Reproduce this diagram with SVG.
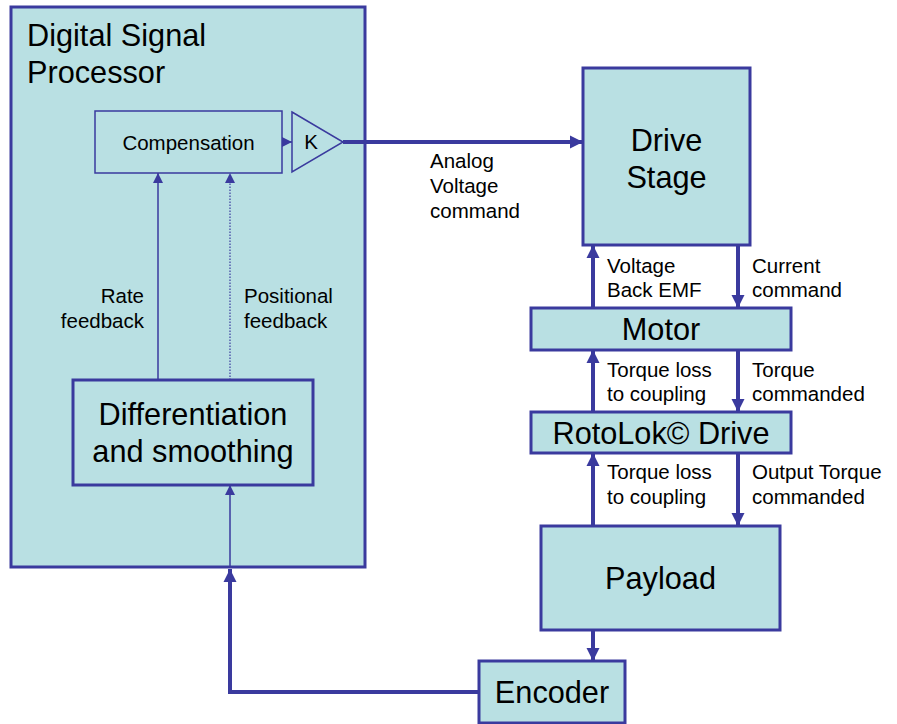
<svg xmlns="http://www.w3.org/2000/svg" width="897" height="724" viewBox="0 0 897 724">
<style>
.box{fill:#b9e0e3;stroke:#3a3a9e;stroke-width:3}
.thin{fill:none;stroke:#3a3a9e;stroke-width:1.5}
.c{stroke:#3a3a9e;fill:none}
.t{font-family:"Liberation Sans",Arial,sans-serif;fill:#000}
.s{font-size:20.5px}
.l{font-size:30.7px}
</style>
<defs>
<marker id="ah" markerUnits="userSpaceOnUse" markerWidth="14" markerHeight="14" refX="13" refY="7" orient="auto"><path d="M0,0.5 L13,7 L0,13.5 z" fill="#3a3a9e"/></marker>
<marker id="ahs" markerUnits="userSpaceOnUse" markerWidth="11" markerHeight="11" refX="10" refY="5.5" orient="auto"><path d="M0,0.5 L10,5.5 L0,10.5 z" fill="#3a3a9e"/></marker>
</defs>
<rect width="897" height="724" fill="#fff"/>
<g id="dsp">
<rect class="box" x="11" y="7" width="354" height="560"/>
<text class="t l" x="27" y="46">Digital Signal</text>
<text class="t l" x="27" y="83">Processor</text>
</g>
<g id="compensation">
<rect class="thin" x="95" y="111" width="187" height="62"/>
<text class="t s" x="188.5" y="150" text-anchor="middle">Compensation</text>
</g>
<g id="gain">
<path class="thin" d="M292,112 L343,142 L292,172 z"/>
<text class="t s" x="311" y="149" text-anchor="middle">K</text>
</g>
<g id="diff">
<rect class="box" x="73" y="380" width="240" height="105"/>
<text class="t l" x="193" y="425" text-anchor="middle">Differentiation</text>
<text class="t l" x="193" y="462" text-anchor="middle">and smoothing</text>
</g>
<g id="drive">
<rect class="box" x="583" y="68" width="167" height="177"/>
<text class="t l" x="666.5" y="151" text-anchor="middle">Drive</text>
<text class="t l" x="666.5" y="188" text-anchor="middle">Stage</text>
</g>
<g id="motor">
<rect class="box" x="531" y="308" width="260" height="42"/>
<text class="t l" x="661" y="340" text-anchor="middle">Motor</text>
</g>
<g id="rotolok">
<rect class="box" x="531" y="412" width="260" height="41"/>
<text class="t l" x="661" y="444" text-anchor="middle">RotoLok© Drive</text>
</g>
<g id="payload">
<rect class="box" x="541" y="526" width="239" height="104"/>
<text class="t l" x="660.5" y="589" text-anchor="middle">Payload</text>
</g>
<g id="encoder">
<rect class="box" x="479" y="661" width="146" height="62"/>
<text class="t l" x="552" y="703" text-anchor="middle">Encoder</text>
</g>
<g id="connectors">
<line class="c" stroke-width="1.5" x1="282" y1="142" x2="292" y2="142" marker-end="url(#ahs)"/>
<line class="c" stroke-width="4" x1="343" y1="142" x2="583" y2="142" marker-end="url(#ah)"/>
<line class="c" stroke-width="1.5" x1="158" y1="380" x2="158" y2="173" marker-end="url(#ahs)"/>
<line class="c" stroke-width="1.2" stroke-dasharray="1.5,1.5" x1="230" y1="380" x2="230" y2="183"/>
<line class="c" stroke-width="0" x1="230" y1="185" x2="230" y2="173" marker-end="url(#ahs)"/>
<line class="c" stroke-width="1.5" x1="230" y1="567" x2="230" y2="485" marker-end="url(#ahs)"/>
<polyline class="c" stroke-width="4" points="479,692 230,692 230,569" marker-end="url(#ah)"/>
<line class="c" stroke-width="4" x1="593" y1="308" x2="593" y2="245" marker-end="url(#ah)"/>
<line class="c" stroke-width="4" x1="738" y1="245" x2="738" y2="308" marker-end="url(#ah)"/>
<line class="c" stroke-width="4" x1="593" y1="412" x2="593" y2="350" marker-end="url(#ah)"/>
<line class="c" stroke-width="4" x1="738" y1="350" x2="738" y2="412" marker-end="url(#ah)"/>
<line class="c" stroke-width="4" x1="593" y1="526" x2="593" y2="453" marker-end="url(#ah)"/>
<line class="c" stroke-width="4" x1="738" y1="453" x2="738" y2="526" marker-end="url(#ah)"/>
<line class="c" stroke-width="4" x1="593" y1="630" x2="593" y2="661" marker-end="url(#ah)"/>
</g>
<g id="labels">
<text class="t s" x="430" y="168">Analog</text>
<text class="t s" x="430" y="193">Voltage</text>
<text class="t s" x="430" y="218">command</text>
<text class="t s" x="144" y="303" text-anchor="end">Rate</text>
<text class="t s" x="144" y="328" text-anchor="end">feedback</text>
<text class="t s" x="244" y="303">Positional</text>
<text class="t s" x="244" y="328">feedback</text>
<text class="t s" x="607" y="273">Voltage</text>
<text class="t s" x="607" y="297">Back EMF</text>
<text class="t s" x="752" y="273">Current</text>
<text class="t s" x="752" y="297">command</text>
<text class="t s" x="607" y="377">Torque loss</text>
<text class="t s" x="607" y="401">to coupling</text>
<text class="t s" x="752" y="377">Torque</text>
<text class="t s" x="752" y="401">commanded</text>
<text class="t s" x="607" y="479">Torque loss</text>
<text class="t s" x="607" y="504">to coupling</text>
<text class="t s" x="752" y="479">Output Torque</text>
<text class="t s" x="752" y="504">commanded</text>
</g>
</svg>
